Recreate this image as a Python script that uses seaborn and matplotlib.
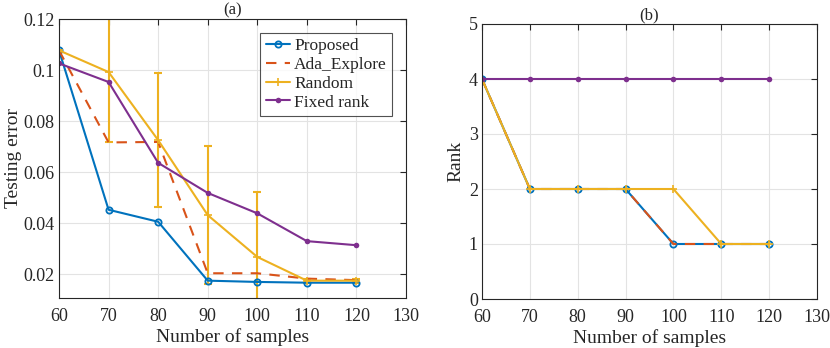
import numpy as np
import pandas as pd
import matplotlib
matplotlib.use("Agg")
import matplotlib.pyplot as plt
import seaborn as sns

samples = [60, 70, 80, 90, 100, 110, 120]
err_proposed = [0.1077, 0.0452, 0.0405, 0.0174, 0.0169, 0.0166, 0.0166]
err_ada = [0.1077, 0.0716, 0.0718, 0.0203, 0.0203, 0.0182, 0.0176]
err_random = [0.1077, 0.0992, 0.0725, 0.0431, 0.0267, 0.0174, 0.0174]
err_random_std = [0.0, 0.0276, 0.0263, 0.0270, 0.0256, 0.0008, 0.0008]
err_fixed = [0.1026, 0.0953, 0.0636, 0.0518, 0.0438, 0.0329, 0.0313]

rank_proposed = [4, 2, 2, 2, 1, 1, 1]
rank_ada = [4, 2, 2, 2, 1, 1, 1]
rank_random = [4, 2, 2, 2, 2, 1, 1]
rank_fixed = [4, 4, 4, 4, 4, 4, 4]

series_names = ["Proposed", "Ada_Explore", "Random", "Fixed rank"]
x_ticks = [60, 70, 80, 90, 100, 110, 120, 130]
y1_ticks = [0.02, 0.04, 0.06, 0.08, 0.1, 0.12]
y1_ticklabels = ["0.02", "0.04", "0.06", "0.08", "0.1", "0.12"]
y2_ticks = [0, 1, 2, 3, 4, 5]

colors = {"Proposed": "#0072BD", "Ada_Explore": "#D95319",
          "Random": "#EDB120", "Fixed rank": "#7E2F8E"}
styles = {
    "Proposed": dict(marker="o", markersize=4.5, markerfacecolor="none", markeredgewidth=1.3, linestyle="-"),
    "Ada_Explore": dict(marker=None, linestyle=(0, (5, 4))),
    "Random": dict(marker="+", markersize=6, markeredgewidth=1.2, linestyle="-"),
    "Fixed rank": dict(marker="o", markersize=4, markeredgewidth=0, linestyle="-"),
}

sns.set_style("white")
plt.rcParams["font.family"] = ["Liberation Serif", "DejaVu Serif"]
plt.rcParams["mathtext.fontset"] = "stix"

fig = plt.figure(figsize=(8.3, 3.48), dpi=100)
W, H = 830, 348
ax1 = fig.add_axes([59 / W, 1 - 298 / H, (406 - 59) / W, (298 - 19) / H])
ax2 = fig.add_axes([482 / W, 1 - 299 / H, (817 - 482) / W, (299 - 24) / H])

def draw(ax, ys):
    for name, y in zip(series_names, ys):
        df = pd.DataFrame({"x": samples, "y": y})
        st = dict(styles[name])
        ls = st.pop("linestyle")
        sns.lineplot(data=df, x="x", y="y", ax=ax, color=colors[name], linewidth=1.5,
                     linestyle=ls, label=name, markeredgecolor=colors[name], **st)

draw(ax1, [err_proposed, err_ada, err_random, err_fixed])
ax1.errorbar(samples, err_random, yerr=err_random_std, fmt="none", ecolor=colors["Random"],
             elinewidth=1.5, capsize=3, capthick=1.5, zorder=1.5)
draw(ax2, [rank_proposed, rank_ada, rank_random, rank_fixed])

for ax in (ax1, ax2):
    ax.set_xlim(60, 130)
    ax.set_xticks(x_ticks)
    ax.grid(True, color="#e3e3e3", linewidth=0.8)
    ax.set_axisbelow(True)
    for sp in ax.spines.values():
        sp.set_visible(True)
        sp.set_color("#262626")
        sp.set_linewidth(0.8)
    ax.tick_params(direction="in", top=True, right=True, length=4, width=0.8,
                   labelsize=13, colors="#262626", pad=3)
    ax.tick_params(axis="x", pad=7.5)
    ax.set_xlabel("Number of samples", fontsize=14, color="#262626", labelpad=2)

ax1.set_ylim(0.0106, 0.12)
ax1.set_yticks(y1_ticks)
ax1.set_yticklabels(y1_ticklabels)
ax1.set_ylabel("Testing error", fontsize=14, color="#262626", labelpad=1)
ax1.set_title("(a)", fontsize=12, pad=3)
leg = ax1.legend(loc="upper right", fontsize=12.5, frameon=True, fancybox=False,
                 edgecolor="#262626", borderpad=0.3, labelspacing=0.15, handlelength=1.4,
                 handletextpad=0.25, borderaxespad=0.8)
leg.get_frame().set_linewidth(0.8)

ax2.set_ylim(0, 5)
ax2.set_yticks(y2_ticks)
ax2.set_ylabel("Rank", fontsize=14, color="#262626", labelpad=3)
ax2.set_title("(b)", fontsize=12, pad=3)
if ax2.get_legend() is not None:
    ax2.get_legend().remove()

fig.savefig("out.png", dpi=100)
